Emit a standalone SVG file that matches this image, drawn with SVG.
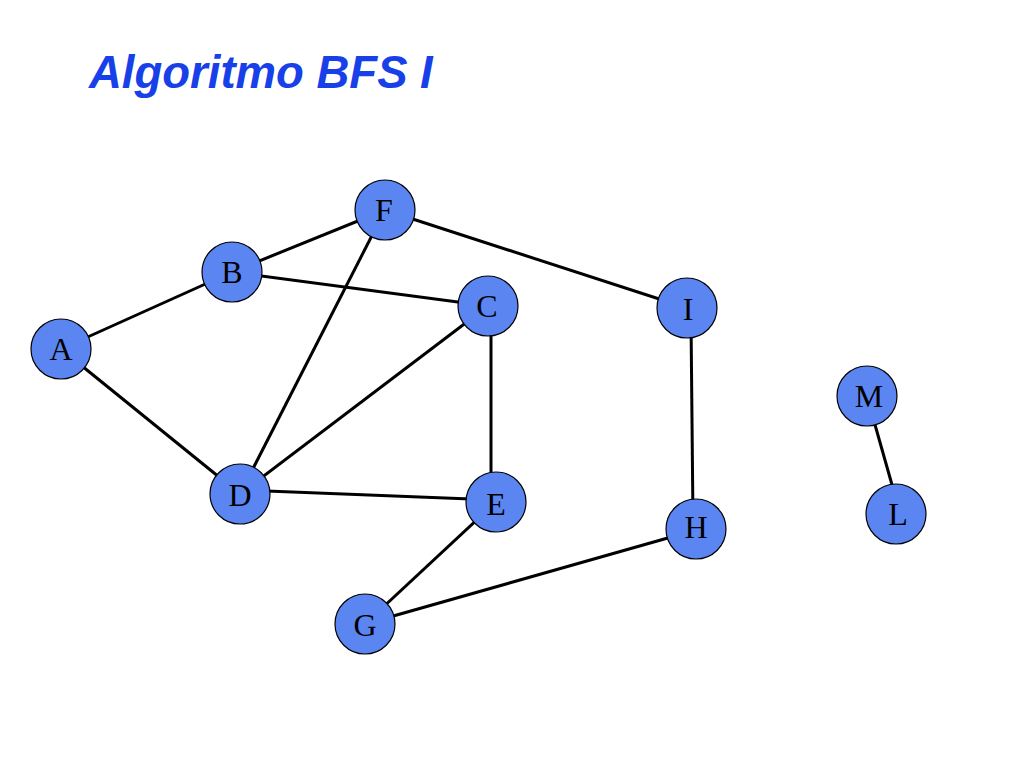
<svg xmlns="http://www.w3.org/2000/svg" width="1024" height="768" viewBox="0 0 1024 768">
<style>
.e{stroke:#000;stroke-width:3;fill:none}
.n circle{fill:#5B86F2;stroke:#000;stroke-width:1.2}
.n text{font-family:"Liberation Serif",serif;font-size:32px;fill:#000;text-anchor:middle}
.t{font-family:"Liberation Sans",Arial,sans-serif;font-size:45.5px;font-weight:bold;font-style:italic;fill:#1740E8}
</style>
<rect width="1024" height="768" fill="#fff"/>
<text class="t" x="89" y="88">Algoritmo BFS I</text>
<g id="edges">
<line class="e" x1="61" y1="349" x2="232" y2="272"/>
<line class="e" x1="61" y1="349" x2="240" y2="494"/>
<line class="e" x1="232" y1="272" x2="385" y2="210"/>
<line class="e" x1="232" y1="272" x2="488" y2="306"/>
<line class="e" x1="385" y1="210" x2="240" y2="494"/>
<line class="e" x1="385" y1="210" x2="687" y2="308"/>
<line class="e" x1="488" y1="306" x2="240" y2="494"/>
<line class="e" x1="491" y1="320" x2="491" y2="490"/>
<line class="e" x1="240" y1="490" x2="496" y2="500"/>
<line class="e" x1="496" y1="502" x2="365" y2="624"/>
<line class="e" x1="365" y1="624" x2="696" y2="530"/>
<line class="e" x1="691" y1="320" x2="693" y2="520"/>
<line class="e" x1="868" y1="400" x2="898" y2="506"/>
</g>
<g id="A" class="n"><circle cx="61" cy="349" r="30"/><text x="61" y="360">A</text></g>
<g id="B" class="n"><circle cx="232" cy="272" r="30"/><text x="232" y="283">B</text></g>
<g id="F" class="n"><circle cx="385" cy="210" r="30"/><text x="384" y="221">F</text></g>
<g id="C" class="n"><circle cx="488" cy="306" r="30"/><text x="487" y="317">C</text></g>
<g id="I" class="n"><circle cx="687" cy="308" r="30"/><text x="688" y="320">I</text></g>
<g id="M" class="n"><circle cx="867" cy="396" r="30"/><text x="869" y="407">M</text></g>
<g id="L" class="n"><circle cx="896" cy="514" r="30"/><text x="898" y="525">L</text></g>
<g id="D" class="n"><circle cx="240" cy="494" r="30"/><text x="240" y="506">D</text></g>
<g id="E" class="n"><circle cx="496" cy="502" r="30"/><text x="496" y="515">E</text></g>
<g id="H" class="n"><circle cx="696" cy="529" r="30"/><text x="696" y="538">H</text></g>
<g id="G" class="n"><circle cx="365" cy="624" r="30"/><text x="365" y="636">G</text></g>
</svg>
